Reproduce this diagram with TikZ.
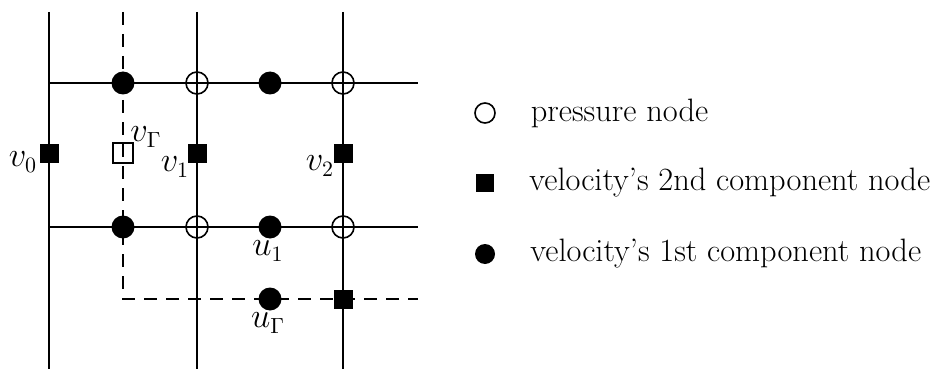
\documentclass[tikz,border=0pt]{standalone}
\usepackage{tikz}
\usetikzlibrary{positioning}

\begin{document}
\begin{tikzpicture}[
  x=0.5pt,y=-0.5pt,
  font=\fontsize{16.2}{19}\selectfont,
  grid/.style={line width=1.1pt},
  cut/.style={line width=1.1pt,dash pattern=on 6.5pt off 4.5pt},
  pnode/.style={circle,draw,line width=0.8pt,minimum size=11pt,inner sep=0pt},
  unode/.style={circle,fill=black,minimum size=11.5pt,inner sep=0pt},
  vnode/.style={rectangle,fill=black,minimum size=9.5pt,inner sep=0pt},
  gnode/.style={rectangle,draw,line width=0.8pt,minimum size=10pt,inner sep=0pt},
  lbl/.style={inner sep=0pt}
]
\useasboundingbox (0,0) rectangle (936,369);
% grid lines
\coordinate (x0t) at (49,12);  \coordinate (x0b) at (49,369);
\coordinate (x1t) at (197,12); \coordinate (x1b) at (197,369);
\coordinate (x2t) at (343,12); \coordinate (x2b) at (343,369);
\coordinate (y0l) at (49,83);  \coordinate (y0r) at (418,83);
\coordinate (y1l) at (49,227); \coordinate (y1r) at (418,227);
\draw[grid] (x0t) -- (x0b);
\draw[grid] (x1t) -- (x1b);
\draw[grid] (x2t) -- (x2b);
\draw[grid] (y0l) -- (y0r);
\draw[grid] (y1l) -- (y1r);
% boundary
\coordinate (gt) at (123,12);
\coordinate (gc) at (123,299);
\coordinate (gr) at (418,299);
\draw[cut] (gt) -- (gc) -- (gr);
% pressure nodes
\node[pnode] (p11) at (197,83) {};
\node[pnode] (p21) at (343,83) {};
\node[pnode] (p12) at (197,227) {};
\node[pnode] (p22) at (343,227) {};
% first component
\node[unode] (ug0) at (123,83) {};
\node[unode] (ua0) at (270,83) {};
\node[unode] (ug1) at (123,227) {};
\node[unode] (u1) at (270,227) {};
\node[unode] (ug) at (270,299) {};
% second component
\node[vnode] (v0) at (49,153) {};
\node[gnode] (vg) at (123,153) {};
\node[vnode] (v1) at (197,153) {};
\node[vnode] (v2) at (343,153) {};
\node[vnode] (vb) at (343,299) {};
% labels
\node[lbl] at (23,162) {$v_0$};
\node[lbl] at (146,137) {$v_\Gamma$};
\node[lbl] at (175,167) {$v_1$};
\node[lbl] at (320,166) {$v_2$};
\node[lbl] at (268,251) {$u_1$};
\node[lbl] at (268,323) {$u_\Gamma$};
% legend
\node[pnode,minimum size=10pt] (lp) at (485,113) {};
\node[vnode,minimum size=9pt] (lv) at (485,183) {};
\node[unode,minimum size=10pt] (lu) at (485,254) {};
\node[right=14pt of lp] {pressure node};
\node[right=14pt of lv] {velocity's 2nd component node};
\node[right=14pt of lu] {velocity's 1st component node};
\end{tikzpicture}
\end{document}
